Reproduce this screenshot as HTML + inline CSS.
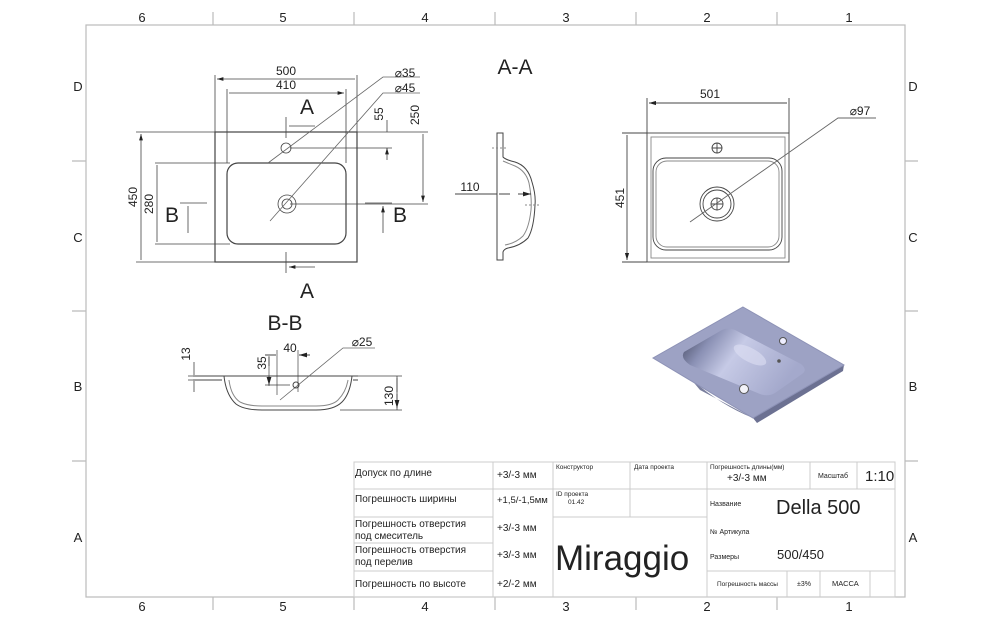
<!DOCTYPE html>
<html><head><meta charset="utf-8"><style>
html,body{margin:0;padding:0;background:#fff}
svg{display:block}
text{font-family:"Liberation Sans","DejaVu Sans",sans-serif;fill:#222}
.t{font-family:"DejaVu Sans","Liberation Sans",sans-serif;fill:#222}
</style></head><body>
<svg width="1000" height="626" viewBox="0 0 1000 626" xmlns="http://www.w3.org/2000/svg">
<defs>
<marker id="a" viewBox="0 0 10 6" refX="10" refY="3" markerWidth="8" markerHeight="5" orient="auto-start-reverse"><path d="M0,0L10,3L0,6z" fill="#222"/></marker>
<linearGradient id="g" x1="0" y1="0" x2="1" y2="0.4"><stop offset="0" stop-color="#3e4258"/><stop offset="0.25" stop-color="#8a90b4"/><stop offset="0.5" stop-color="#c6cae6"/><stop offset="1" stop-color="#a4a9cc"/></linearGradient>
</defs>
<!-- frame -->
<g stroke="#bbb" stroke-width="1.2" fill="none">
<rect x="86" y="25" width="819" height="572"/>
<path d="M213,12V25M354,12V25M495,12V25M636,12V25M777,12V25M213,597V610M354,597V610M495,597V610M636,597V610M777,597V610M72,161H86M72,311H86M72,461H86M905,161H918M905,311H918M905,461H918"/>
</g>
<g font-size="13" text-anchor="middle">
<text x="142" y="22">6</text><text x="283" y="22">5</text><text x="425" y="22">4</text><text x="566" y="22">3</text><text x="707" y="22">2</text><text x="849" y="22">1</text>
<text x="142" y="611">6</text><text x="283" y="611">5</text><text x="425" y="611">4</text><text x="566" y="611">3</text><text x="707" y="611">2</text><text x="849" y="611">1</text>
<text x="78" y="91">D</text><text x="78" y="242">C</text><text x="78" y="391">B</text><text x="78" y="542">A</text>
<text x="913" y="91">D</text><text x="913" y="242">C</text><text x="913" y="391">B</text><text x="913" y="542">A</text>
</g>

<!-- top view -->
<g stroke="#444" stroke-width="0.8" fill="none">
<rect x="215" y="132" width="142" height="130" stroke-width="1.2"/>
<rect x="227" y="163" width="119" height="81" rx="11" stroke-width="1.2"/>
<circle cx="287" cy="204" r="9"/><circle cx="287" cy="204" r="5"/>
<circle cx="286" cy="148" r="5"/>
<path d="M215,75V132M357,75V132M227,89V163M346,89V163"/>
<path d="M217,79H355M229,93H344" marker-start="url(#a)" marker-end="url(#a)"/>
<path d="M136,132H215M155,163H230M155,244H230M136,262H215M357,132H428M290,204H428M290,148H392"/>
<path d="M141,134V260M157,165V242M423,134V202" marker-start="url(#a)" marker-end="url(#a)"/>
<path d="M387,120V132M387,160V148" marker-end="url(#a)"/>
<path d="M268,163L383,77H420M270,221L383,93H420" stroke="#666"/>
<path d="M286,117V138M286,252V273M180,203H207M365,203H392"/>
<path d="M315,126H289M315,267H289" marker-end="url(#a)"/>
<path d="M188,233V206M383,233V206" marker-end="url(#a)"/>
</g>
<g font-size="12" text-anchor="middle">
<text x="286" y="75">500</text><text x="286" y="89">410</text>
<text x="405" y="77">⌀35</text><text x="405" y="92">⌀45</text>
<text transform="translate(137,197) rotate(-90)">450</text>
<text transform="translate(153,204) rotate(-90)">280</text>
<text transform="translate(419,115) rotate(-90)">250</text>
<text transform="translate(383,114) rotate(-90)">55</text>
</g>
<g font-size="21" text-anchor="middle">
<text x="307" y="114">A</text><text x="307" y="298">A</text>
<text x="172" y="222">B</text><text x="400" y="222">B</text>
<text x="515" y="74">A-A</text><text x="285" y="330">B-B</text>
</g>

<!-- A-A side -->
<g stroke="#444" stroke-width="1" fill="none">
<path d="M497,133H503V157Q506,160 515,162Q528,166 532,182Q536,195 535,205Q534,228 528,238Q520,246 508,248Q504,249 503,252V260H497Z"/>
<path d="M503,161Q510,164 515,166Q526,171 529,183Q532,198 531,210Q529,228 523,236Q516,243 505,245" stroke="#888"/>
<path d="M492,148H508M525,205H540" stroke="#888" stroke-dasharray="2,2"/>
<path d="M455,194H497"/>
<path d="M510,194H499M518,194H531" marker-end="url(#a)"/>
</g>
<text x="470" y="191" font-size="12" text-anchor="middle">110</text>

<!-- front view -->
<g stroke="#444" stroke-width="0.9" fill="none">
<rect x="647" y="133" width="142" height="129"/>
<rect x="651" y="137" width="134" height="121" stroke="#888"/>
<rect x="653" y="158" width="129" height="92" rx="13"/>
<rect x="656" y="161" width="123" height="86" rx="11" stroke="#888"/>
<circle cx="717" cy="204" r="17"/><circle cx="717" cy="204" r="14"/><circle cx="717" cy="204" r="6"/>
<path d="M711,204H723M717,198V210"/>
<circle cx="717" cy="148" r="5"/><path d="M712,148H722M717,143V153"/>
<path d="M647,98V133M789,98V133M622,133H647M622,262H647"/>
<path d="M649,103H787M627,135V260" marker-start="url(#a)" marker-end="url(#a)"/>
<path d="M690,222L838,118H876" stroke="#666"/>
</g>
<text x="710" y="98" font-size="12" text-anchor="middle">501</text>
<text transform="translate(624,198) rotate(-90)" font-size="12" text-anchor="middle">451</text>
<text x="860" y="115" font-size="12" text-anchor="middle">⌀97</text>

<!-- 3D -->
<path d="M753,418L844,365L843,371L757,423Z" fill="#6c7192"/>
<path d="M690,378Q720,405 753,418L700,390Z" fill="#7a7f9e"/>
<path d="M743,307L844,365L753,418L653,358Z" fill="#9da2c4" stroke="#8d92b6"/>
<path d="M684,352L722,330Q728,327 735,330L801,364Q808,370 802,374L775,393Q768,397 760,394L690,365Q680,358 684,352Z" fill="url(#g)"/>
<ellipse cx="750" cy="355" rx="18" ry="7" fill="#dde0f4" opacity="0.6" transform="rotate(28 750 355)"/>
<circle cx="783" cy="341" r="3.5" fill="#eef" stroke="#555"/>
<circle cx="779" cy="361" r="1.8" fill="#555"/>
<circle cx="744" cy="389" r="4.5" fill="#f2f2f8" stroke="#555"/>

<!-- B-B -->
<g stroke="#444" stroke-width="1" fill="none">
<path d="M193,376H358M193,380H222M353,380H358"/>
<path d="M224,376Q226,395 236,404Q244,410 262,410H316Q334,410 342,402Q350,394 352,376"/>
<path d="M229,380Q231,396 240,402Q248,406 262,406H316Q332,406 338,400Q346,392 348,380" stroke="#888"/>
<path d="M397,376V410M358,376H402M340,410H402" stroke-width="0.8"/>
<path d="M397,392V378M397,394V408" marker-end="url(#a)"/>
<path d="M188,376H198M188,380H198M194,362V375M194,392V381" stroke-width="0.8"/>
<path d="M269,356V386M265,385H290M277,350V395M298,350V392" stroke-width="0.7"/>
<path d="M269,366V357M269,376V385" marker-end="url(#a)"/>
<path d="M265,355H276M310,355H299" marker-end="url(#a)"/>
<path d="M280,400L343,348H375" stroke="#666" stroke-width="0.8"/>
<circle cx="296" cy="385" r="3"/>
</g>
<g font-size="12" text-anchor="middle">
<text x="290" y="352">40</text><text x="362" y="346">⌀25</text>
<text transform="translate(190,354) rotate(-90)">13</text>
<text transform="translate(266,363) rotate(-90)">35</text>
<text transform="translate(393,396) rotate(-90)">130</text>
</g>

<!-- title block -->
<g stroke="#ccc" stroke-width="1" fill="none">
<rect x="354" y="462" width="541" height="135"/>
<path d="M354,489H707M354,517H493M354,543H493M354,571H493M553,517H707M707,489H895M707,571H895"/>
<path d="M493,462V597M553,462V597M630,462V517M707,462V597M810,462V489M857,462V489M787,571V597M820,571V597M870,571V597"/>
</g>
<g class="t" font-size="10">
<text x="355" y="476">Допуск по длине</text>
<text x="355" y="502">Погрешность ширины</text>
<text x="355" y="527">Погрешность отверстия</text><text x="355" y="539">под смеситель</text>
<text x="355" y="553">Погрешность отверстия</text><text x="355" y="565">под перелив</text>
<text x="355" y="587">Погрешность по высоте</text>
<text x="497" y="478">+3/-3 мм</text>
<text x="497" y="503" font-size="9.5">+1,5/-1,5мм</text>
<text x="497" y="531">+3/-3 мм</text>
<text x="497" y="558">+3/-3 мм</text>
<text x="497" y="587">+2/-2 мм</text>
<text x="556" y="469" font-size="6.5">Конструктор</text>
<text x="634" y="469" font-size="6.5">Дата проекта</text>
<text x="556" y="496" font-size="6.5">ID проекта</text>
<text x="568" y="504" font-size="6.5">01.42</text>
<text x="710" y="469" font-size="6.5">Погрешность длины(мм)</text>
<text x="727" y="481" font-size="10">+3/-3 мм</text>
<text x="818" y="478" font-size="7">Масштаб</text>
<text x="865" y="481" font-size="15">1:10</text>
<text x="710" y="506" font-size="7">Название</text>
<text x="776" y="514" font-size="20">Della 500</text>
<text x="710" y="534" font-size="7">№ Артикула</text>
<text x="710" y="559" font-size="7">Размеры</text>
<text x="777" y="559" font-size="13">500/450</text>
<text x="717" y="586" font-size="6.5">Погрешность массы</text>
<text x="797" y="586" font-size="7">±3%</text>
<text x="832" y="586" font-size="7.5">МАССА</text>
<text x="555" y="570" font-size="35" font-family="DejaVu Sans">Miraggio</text>
</g>
</svg>
</body></html>
